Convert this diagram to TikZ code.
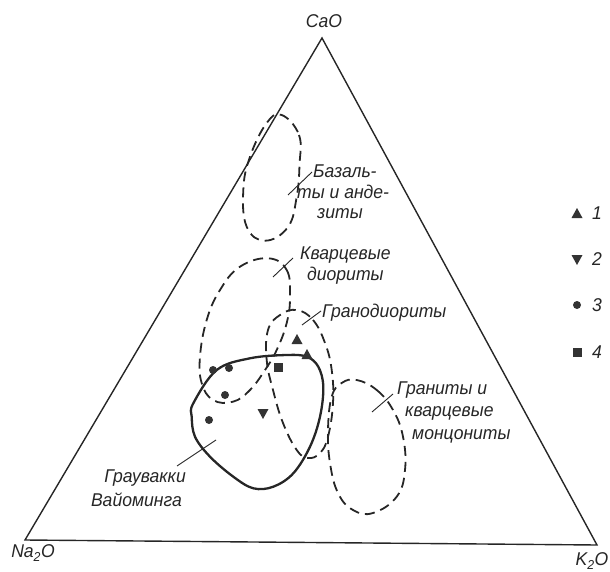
\documentclass[tikz,border=0pt]{standalone}
\usepackage{fontspec}
\setmainfont{Liberation Sans}
\newfontfamily\gostfont[FakeStretch=0.95]{Liberation Sans}
\begin{document}
\begin{tikzpicture}[x=1pt,y=-1pt,
  ink/.style={draw=black!85},
  edge/.style={ink,line width=1.4pt,line join=miter},
  field/.style={ink,line width=1.8pt,dash pattern=on 10pt off 6pt,line cap=butt},
  wacke/.style={ink,line width=2.3pt},
  leader/.style={ink,line width=0.9pt},
  lbl/.style={font=\gostfont\itshape\fontsize{18.5}{18.5}\selectfont,text=black!85,inner sep=0pt},
  tup/.pic={\fill[black!80] (0,-6)--(5.5,4)--(-5.5,4)--cycle;},
  tdn/.pic={\fill[black!80] (0,6)--(5.5,-4)--(-5.5,-4)--cycle;},
  dot/.pic={\fill[black!80] (0,0) circle (4);},
  sqr/.pic={\fill[black!80] (-4.5,-4.5) rectangle (4.5,4.5);}]
\useasboundingbox (0,0) rectangle (610,572);
% triangle
\coordinate (Na) at (25,540);
\coordinate (K) at (597,545);
\coordinate (Ca) at (322,38);
\draw[edge] (Na) -- (K) -- (Ca) -- cycle;
\node[lbl] (tCa) at (324,21) {CaO};
\node[lbl] (tNa) at (33,553) {Na\textsubscript{2}O};
\node[lbl] (tK) at (592,561) {K\textsubscript{2}O};
% basalts and andesites
\draw[field] plot[smooth cycle,tension=0.7] coordinates {(281.7,115) (299,135) (299.5,165) (296.7,196.7) (288,227) (265,240.7) (246.7,226.7) (243.3,190) (250,156.7) (266.7,123)};
% quartz diorites
\draw[field] plot[smooth cycle,tension=0.7] coordinates {(268.3,258.3) (286.7,270) (290,296.7) (286.7,323) (276.7,350) (265,370) (250,390) (233,401.7) (213,400) (201.7,383) (200,356.7) (206.7,320) (220,290) (240,266.7)};
% granodiorites
\draw[field] plot[smooth cycle,tension=0.7] coordinates {(296.7,310) (313,320) (325,343) (331.7,370) (333,403) (328,436.7) (320,453) (308,458) (296.7,450) (283,423) (273,390) (266.7,360) (268,330) (280,315)};
% granites and quartz monzonites
\draw[field] plot[smooth cycle,tension=0.7] coordinates {(356.7,380) (376.7,390) (393,410) (403,436.7) (405,470) (396.7,496.7) (373,513) (353,510) (338,493) (330,463) (328,430) (331.7,396.7) (341.7,383)};
% Wyoming greywackes
\draw[wacke] plot[smooth cycle,tension=0.6] coordinates {(193.3,403.3) (216.7,370) (250,358.3) (286.7,355) (306.7,356.7) (318.3,366.7) (323.3,386.7) (320,416.7) (310,446.7) (293.3,473.3) (273.3,486.7) (253.3,488.3) (233.3,476.7) (210,456.7) (195,436.7) (191.7,416.7)};
% labels with leaders
\node[lbl,anchor=west] (b1) at (313,171) {Базаль-};
\node[lbl,anchor=west] (b2) at (297,192) {ты и анде-};
\node[lbl,anchor=west] (b3) at (317,214) {зиты};
\coordinate (bs) at (288,195); \coordinate (be) at (312,172);
\draw[leader] (bs) -- (be);
\node[lbl,anchor=west] (q1) at (300,255) {Кварцевые};
\node[lbl,anchor=west] (q2) at (307,276) {диориты};
\coordinate (qs) at (273,277); \coordinate (qe) at (293,258);
\draw[leader] (qs) -- (qe);
\node[lbl,anchor=west] (g1) at (322,313) {Гранодиориты};
\coordinate (gs) at (302,325); \coordinate (ge) at (321,311);
\draw[leader] (gs) -- (ge);
\node[lbl,anchor=west] (r1) at (397,390) {Граниты и};
\node[lbl,anchor=west] (r2) at (405,413) {кварцевые};
\node[lbl,anchor=west] (r3) at (412,436) {монцониты};
\coordinate (rs) at (372,412); \coordinate (re) at (393,394);
\draw[leader] (rs) -- (re);
\node[lbl,anchor=east] (w1) at (186,478) {Граувакки};
\node[lbl,anchor=east] (w2) at (182,500) {Вайоминга};
\coordinate (ws) at (216,440); \coordinate (we) at (177,466);
\draw[leader] (ws) -- (we);
% data points
\pic at (213,370) {dot}; \pic at (229,368) {dot}; \pic at (225,395) {dot}; \pic at (209,420) {dot};
\pic at (297,340) {tup}; \pic at (307,355) {tup};
\pic at (278,367) {sqr};
\pic at (263,413) {tdn};
% legend
\pic at (577,214) {tup}; \node[lbl,anchor=west] (l1) at (592,213) {1};
\pic at (577,259) {tdn}; \node[lbl,anchor=west] (l2) at (592,259) {2};
\pic at (577,305) {dot}; \node[lbl,anchor=west] (l3) at (592,305) {3};
\pic at (577,352) {sqr}; \node[lbl,anchor=west] (l4) at (592,352) {4};
\end{tikzpicture}
\end{document}
